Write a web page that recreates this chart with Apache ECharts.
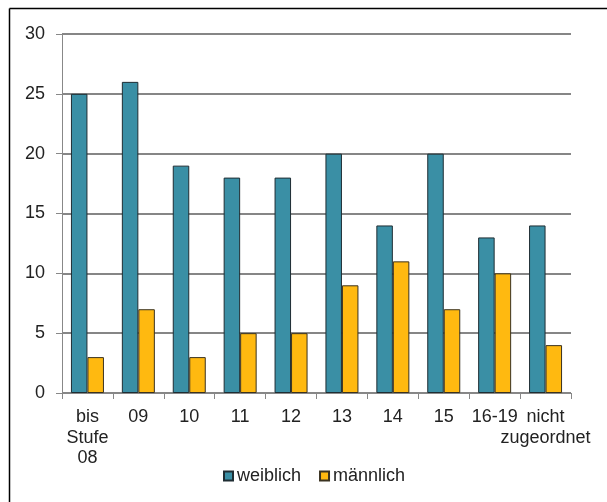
<!DOCTYPE html>
<html>
<head>
<meta charset="utf-8">
<script src="https://cdn.jsdelivr.net/npm/echarts@6/dist/echarts.min.js"></script>
<style>
html,body{margin:0;padding:0;background:#fff;}
#chart{width:607px;height:502px;}
</style>
</head>
<body>
<div id="chart"></div>
<script>
var categories = ['bis\nStufe\n08', '09', '10', '11', '12', '13', '14', '15', '16-19', 'nicht\nzugeordnet'];
var weiblich = [25, 26, 19, 18, 18, 20, 14, 20, 13, 14];
var maennlich = [3, 7, 3, 5, 5, 9, 11, 7, 10, 4];
var yTicks = [0, 5, 10, 15, 20, 25, 30];

var font = 'Liberation Sans, Arial, sans-serif';

var chart = echarts.init(document.getElementById('chart'));
chart.setOption({
    animation: false,
    grid: {left: 62, right: 36, top: 34, bottom: 109, containLabel: false},
    legend: {
        data: ['weiblich', 'männlich'],
        top: 462,
        left: 218,
        itemWidth: 9,
        itemHeight: 9,
        itemGap: 18,
        icon: 'rect',
        textStyle: {fontFamily: font, fontSize: 18, color: '#222', padding: [0, 0, 0, -1]}
    },
    xAxis: {
        type: 'category',
        data: categories,
        axisLine: {lineStyle: {color: '#888', width: 1}},
        axisTick: {show: true, length: 6, interval: 0, lineStyle: {color: '#888'}},
        axisLabel: {fontFamily: font, fontSize: 18, color: '#222', margin: 14, lineHeight: 20.5, interval: 0}
    },
    yAxis: {
        type: 'value',
        min: yTicks[0],
        max: yTicks[yTicks.length - 1],
        interval: 5,
        axisLine: {show: true, lineStyle: {color: '#888', width: 1}},
        axisTick: {show: true, length: 6, lineStyle: {color: '#888'}},
        axisLabel: {fontFamily: font, fontSize: 18, color: '#222', margin: 17},
        splitLine: {lineStyle: {color: '#868686', width: 2}}
    },
    series: [
        {
            name: 'weiblich',
            type: 'bar',
            data: weiblich,
            barWidth: 16.5,
            barGap: '0%',
            itemStyle: {color: '#3A8FA5', borderColor: '#1f2d33', borderWidth: 1}
        },
        {
            name: 'männlich',
            type: 'bar',
            data: maennlich,
            barWidth: 16.5,
            barGap: '0%',
            itemStyle: {color: '#FFB910', borderColor: '#3a3220', borderWidth: 1}
        }
    ],
    graphic: [
        {type: 'line', shape: {x1: 9.5, y1: 8.5, x2: 607, y2: 8.5}, style: {stroke: '#000', lineWidth: 1.5}},
        {type: 'line', shape: {x1: 9.5, y1: 8.5, x2: 9.5, y2: 502}, style: {stroke: '#000', lineWidth: 1.5}}
    ]
});
</script>
</body>
</html>
